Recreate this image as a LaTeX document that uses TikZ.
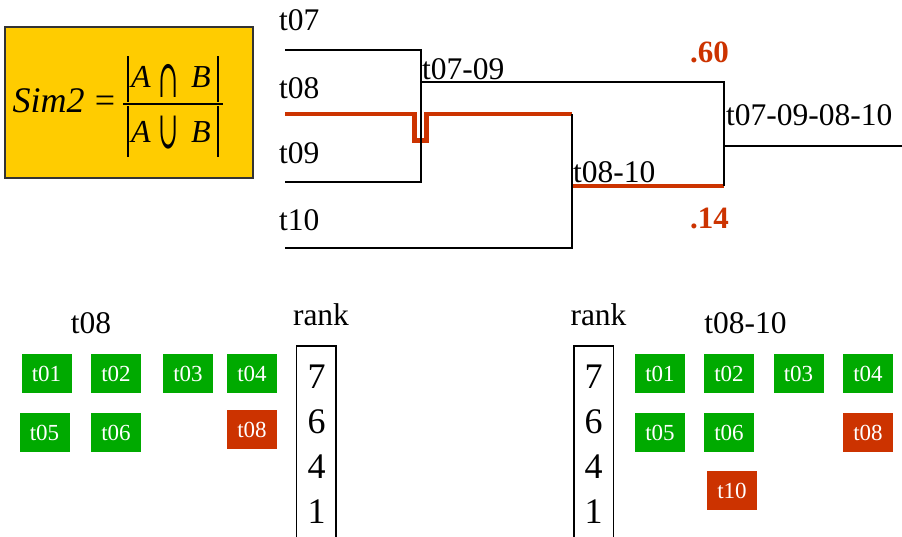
\documentclass[tikz,border=0pt]{standalone}
\usepackage{fontspec}
\setmainfont{Liberation Serif}
\newfontfamily\opfont{DejaVu Serif}
\usepackage{graphicx}
\definecolor{myred}{HTML}{CC3300}
\definecolor{mygreen}{HTML}{00AA00}
\definecolor{gold}{HTML}{FFCC00}
\begin{document}
\begin{tikzpicture}[x=1pt,y=-1pt,
  lbl/.style={inner sep=0pt, anchor=base west, font=\fontsize{31.5}{33}\selectfont},
  tree/.style={draw=black, line width=1.2pt},
  hl/.style={draw=myred, line width=4.5pt, line join=miter},
  score/.style={inner sep=0pt, anchor=base west, text=myred, font=\fontsize{31}{33}\selectfont\bfseries},
  gbox/.style={fill=mygreen, minimum width=50pt, minimum height=38.5pt, inner sep=0pt, text=white, font=\fontsize{23}{25}\selectfont},
  rbox/.style={gbox, fill=myred},
  rankbox/.style={draw=black, line width=1.2pt},
  rnum/.style={inner sep=0pt, anchor=base, font=\fontsize{36}{38}\selectfont},
  ftxt/.style={inner sep=0pt, anchor=base west, font=\fontsize{32}{34}\selectfont\itshape},
  fbar/.style={draw=black, line width=1.3pt},
  fop/.style={inner sep=0pt, font=\fontsize{24}{26}\selectfont\opfont},
]
\useasboundingbox (0,0) rectangle (902,536);
\clip (0,0) rectangle (902,536);

% formula box
\node[draw=black!80, line width=1.3pt, fill=gold, minimum width=248pt, minimum height=151pt, inner sep=0pt] (fbox) at (129,102.5) {};
\node[inner sep=0pt, anchor=base west, font=\fontsize{36}{38}\selectfont\itshape] (sim) at (12.5,112) {Sim2};
\node[inner sep=0pt, anchor=base, font=\fontsize{36}{38}\selectfont] (eq) at (105,112) {=};
\coordinate (fl) at (123,104);
\coordinate (fr) at (223,104);
\draw[black, line width=1.3pt] (fl) -- (fr);
\coordinate (nb1t) at (128,56); \coordinate (nb1b) at (128,102);
\coordinate (nb2t) at (218,56); \coordinate (nb2b) at (218,102);
\coordinate (db1t) at (128,106); \coordinate (db1b) at (128,157);
\coordinate (db2t) at (218,106); \coordinate (db2b) at (218,157);
\draw[fbar] (nb1t) -- (nb1b); \draw[fbar] (nb2t) -- (nb2b);
\draw[fbar] (db1t) -- (db1b); \draw[fbar] (db2t) -- (db2b);
\node[ftxt] (nA) at (131,87) {A};
\node[fop] (ncap) at (169,81) {\scalebox{1.0}[2.2]{∩}};
\node[ftxt] (nB) at (191,87) {B};
\node[ftxt] (dA) at (131,142) {A};
\node[fop] (dcup) at (169,133) {\scalebox{1.0}[2.2]{∪}};
\node[ftxt] (dB) at (191,142) {B};

% dendrogram
\coordinate (a07) at (285,50);   \coordinate (j07) at (421,50);
\coordinate (a09) at (285,182);  \coordinate (j09) at (421,182);
\coordinate (j0709) at (421,82); \coordinate (k0709) at (724,82);
\coordinate (k0810) at (724,186);
\coordinate (a08) at (285,114);
\coordinate (n1) at (414.5,114); \coordinate (n2) at (414.5,140.7);
\coordinate (n3) at (426.5,140.7); \coordinate (n4) at (426.5,114);
\coordinate (j08) at (572,114);
\coordinate (j10) at (572,248); \coordinate (a10) at (285,248);
\coordinate (j0810) at (572,186);
\coordinate (root) at (724,146); \coordinate (rootend) at (903,146);

\draw[hl] (a08) -- (n1) -- (n2) -- (n3) -- (n4) -- (j08);
\draw[hl] (j0810) -- (k0810);
\draw[tree] (a07) -- (j07) -- (j09) -- (a09);
\draw[tree] (j0709) -- (k0709) -- (k0810);
\draw[tree] (j08) -- (j10) -- (a10);
\draw[tree] (root) -- (rootend);

\node[lbl] (t07) at (279,30) {t07};
\node[lbl] (t08) at (279,98) {t08};
\node[lbl] (t09) at (279,163) {t09};
\node[lbl] (t10) at (279,230) {t10};
\node[lbl] (t0709) at (422,79) {t07-09};
\node[lbl] (t0810) at (573,182) {t08-10};
\node[lbl] (tall) at (726,125) {t07-09-08-10};
\node[score] (s60) at (690,62) {.60};
\node[score] (s14) at (690,228) {.14};

% bottom left
\node[lbl, anchor=base] (hl1) at (91,333) {t08};
\node[lbl, anchor=base] (rk1) at (321,325) {rank};
\node[gbox] (L01) at (46.5,373.5) {t01};
\node[gbox] (L02) at (116,373.5) {t02};
\node[gbox] (L03) at (188,373.5) {t03};
\node[gbox] (L04) at (252,373.5) {t04};
\node[gbox] (L05) at (44.5,432.5) {t05};
\node[gbox] (L06) at (116,432.5) {t06};
\node[rbox] (L08) at (252,429.5) {t08};
\draw[rankbox] (296.7,560) |- (336,346) -- (336,560);
\node[rnum] (r17) at (316.5,388) {7};
\node[rnum] (r16) at (316.5,433) {6};
\node[rnum] (r14) at (316.5,478) {4};
\node[rnum] (r11) at (316.5,523) {1};

% bottom right
\node[lbl, anchor=base] (rk2) at (598.5,325) {rank};
\node[lbl, anchor=base] (hl2) at (745.5,333) {t08-10};
\draw[rankbox] (574,560) |- (613.3,346) -- (613.3,560);
\node[rnum] (r27) at (593.6,388) {7};
\node[rnum] (r26) at (593.6,433) {6};
\node[rnum] (r24) at (593.6,478) {4};
\node[rnum] (r21) at (593.6,523) {1};
\node[gbox] (R01) at (660,373.5) {t01};
\node[gbox] (R02) at (729,373.5) {t02};
\node[gbox] (R03) at (798.5,373.5) {t03};
\node[gbox] (R04) at (868,373.5) {t04};
\node[gbox] (R05) at (660,432.5) {t05};
\node[gbox] (R06) at (729,432.5) {t06};
\node[rbox] (R08) at (868,432.5) {t08};
\node[rbox] (R10) at (732,490.5) {t10};
\end{tikzpicture}
\end{document}
